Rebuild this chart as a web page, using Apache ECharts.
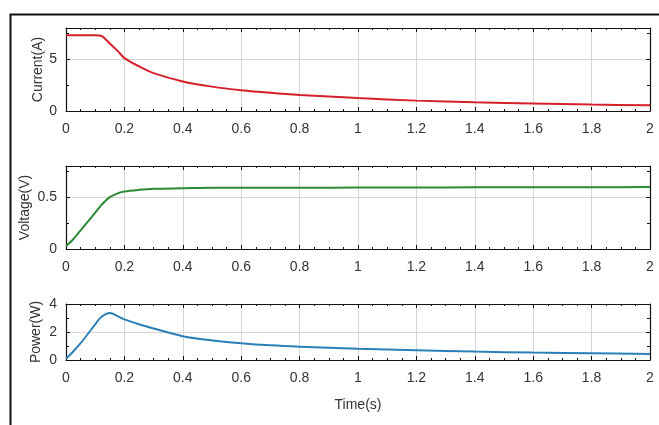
<!DOCTYPE html>
<html>
<head>
<meta charset="utf-8">
<script src="https://cdn.jsdelivr.net/npm/echarts@6/dist/echarts.min.js"></script>
<style>
  html, body { margin: 0; padding: 0; background: #fff; }
  #chart { width: 659px; height: 425px; }
</style>
</head>
<body>
<div id="chart"></div>
<script>
// sample times (s)
var timeValues = [0, 0.02, 0.05, 0.08, 0.1, 0.12, 0.15, 0.18, 0.2, 0.25, 0.3, 0.4, 0.5, 0.6, 0.7, 0.8, 1.0, 1.2, 1.4, 1.6, 1.8, 2.0];
var currentValues = [7.3, 7.3, 7.3, 7.3, 7.3, 7.25, 6.5, 5.7, 5.1, 4.3, 3.65, 2.85, 2.35, 2.0, 1.75, 1.55, 1.25, 1.0, 0.85, 0.72, 0.62, 0.55];
var voltageValues = [0.03, 0.08, 0.18, 0.28, 0.35, 0.42, 0.5, 0.54, 0.555, 0.57, 0.58, 0.585, 0.59, 0.59, 0.59, 0.59, 0.592, 0.593, 0.594, 0.595, 0.595, 0.597];
var powerValues = [0.1, 0.5, 1.2, 2.0, 2.55, 3.05, 3.35, 3.1, 2.9, 2.55, 2.25, 1.7, 1.4, 1.2, 1.05, 0.95, 0.8, 0.7, 0.6, 0.53, 0.48, 0.43];

var xTicks = { min: 0, max: 2, interval: 0.2 };
var panels = [
  { name: 'Current(A)', max: 8, interval: 5, top: 28, height: 83, gap: 21, data: currentValues, color: '#d62029' },
  { name: 'Voltage(V)', max: 0.8, interval: 0.5, top: 166, height: 83, gap: 34, data: voltageValues, color: '#2c8a35' },
  { name: 'Power(W)', max: 4, interval: 2, top: 304, height: 56, gap: 23, data: powerValues, color: '#2a80b6' }
];

function pairs(vals) {
  return timeValues.map(function(t, i) { return [t, vals[i]]; });
}

var fam = 'Liberation Sans, Arial, sans-serif';
var labelFont = { color: '#333', fontSize: 14, fontFamily: fam };
var grids = [], xAxes = [], yAxes = [], series = [];

panels.forEach(function(p, i) {
  grids.push({ left: 66, right: 9, top: p.top, height: p.height });
  // bottom x axis with labels
  xAxes.push({
    gridIndex: i, type: 'value', min: xTicks.min, max: xTicks.max, interval: xTicks.interval,
    axisLine: { onZero: false, lineStyle: { color: '#111', width: 1.2 } },
    axisTick: { inside: true, length: 4, lineStyle: { color: '#111' } },
    minorTick: { show: true, splitNumber: 4, length: 2, lineStyle: { color: '#111' } },
    splitLine: { show: true, lineStyle: { color: '#d6d6d6', width: 1 } },
    axisLabel: Object.assign({ margin: 11 }, labelFont),
    name: i === 2 ? 'Time(s)' : '',
    nameLocation: 'middle', nameGap: 38,
    nameTextStyle: { color: '#333', fontSize: 14, fontFamily: fam }
  });
  // top x axis (box edge)
  xAxes.push({
    gridIndex: i, type: 'value', position: 'top', min: xTicks.min, max: xTicks.max, interval: xTicks.interval,
    axisLine: { onZero: false, lineStyle: { color: '#111', width: 1.2 } },
    axisTick: { inside: true, length: 4, lineStyle: { color: '#111' } },
    minorTick: { show: true, splitNumber: 4, length: 2, lineStyle: { color: '#111' } },
    splitLine: { show: false }, axisLabel: { show: false }
  });
  yAxes.push({
    gridIndex: i, type: 'value', min: 0, max: p.max, interval: p.interval,
    axisLine: { show: true, onZero: false, lineStyle: { color: '#111', width: 1.2 } },
    axisTick: { show: true, inside: true, length: 4, lineStyle: { color: '#111' } },
    minorTick: { show: true, splitNumber: 2, length: 3, lineStyle: { color: '#111' } },
    splitLine: { show: true, lineStyle: { color: '#d6d6d6', width: 1 } },
    axisLabel: Object.assign({ margin: 9, showMaxLabel: p.max % p.interval === 0 }, labelFont),
    name: p.name, nameLocation: 'middle', nameGap: p.gap, nameMoveOverlap: false,
    nameTextStyle: { color: '#333', fontSize: 14, fontFamily: fam }
  });
  yAxes.push({
    gridIndex: i, type: 'value', position: 'right', min: 0, max: p.max, interval: p.interval,
    axisLine: { show: true, onZero: false, lineStyle: { color: '#111', width: 1.2 } },
    axisTick: { show: true, inside: true, length: 4, lineStyle: { color: '#111' } },
    minorTick: { show: true, splitNumber: 2, length: 3, lineStyle: { color: '#111' } },
    splitLine: { show: false }, axisLabel: { show: false }
  });
  series.push({
    type: 'line', xAxisIndex: i * 2, yAxisIndex: i * 2, data: pairs(p.data),
    showSymbol: false, smooth: 0.3, lineStyle: { color: p.color, width: 2 }, silent: true
  });
});

var chart = echarts.init(document.getElementById('chart'), null, { renderer: 'canvas' });
chart.setOption({
  animation: false,
  backgroundColor: '#fff',
  grid: grids, xAxis: xAxes, yAxis: yAxes, series: series,
  graphic: [{
    type: 'rect', left: 8, top: 12, shape: { width: 680, height: 440 },
    style: { fill: 'none', stroke: '#111', lineWidth: 2 }, silent: true, z: 100
  }]
});
</script>
</body>
</html>
